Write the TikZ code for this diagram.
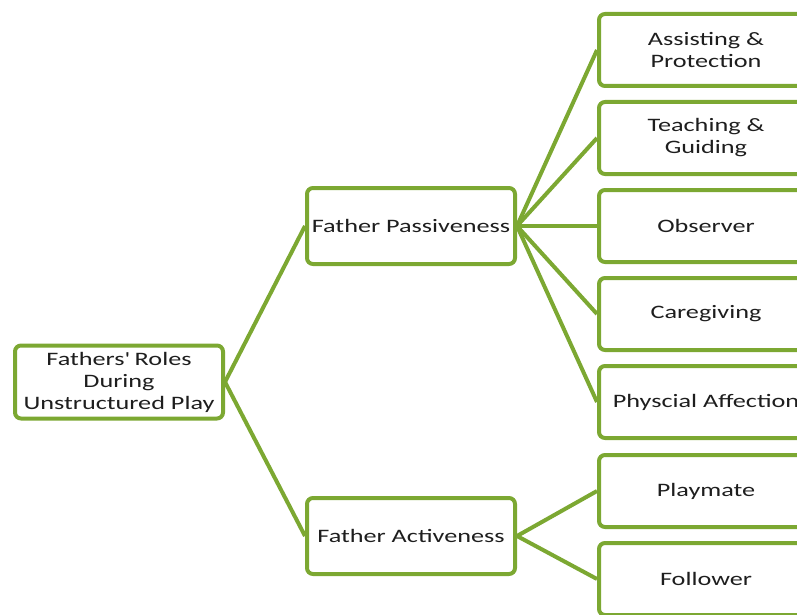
\documentclass[tikz,border=0pt]{standalone}
\usepackage{fontspec}
\setmainfont{Carlito}[FakeStretch=1.38]
\definecolor{leafgreen}{RGB}{124,168,50}
\definecolor{txtgray}{RGB}{30,30,30}

\begin{document}
\begin{tikzpicture}[x=1pt,y=-1pt,
    rolebox/.style={draw=leafgreen, line width=4pt, rounded corners=6pt, fill=white,
        text=txtgray, align=center, font=\fontsize{19}{22}\selectfont, inner sep=2pt,
        minimum width=208pt, minimum height=76pt},
    subbox/.style={rolebox, minimum width=214pt, minimum height=72pt},
    link/.style={draw=leafgreen, line width=4pt}]
    \useasboundingbox (0,0) rectangle (797,615);

    % Root
    \node[rolebox, minimum height=73pt] (root) at (119,382) {Fathers\textquotesingle{} Roles\\During\\Unstructured Play};

    % Two kinds of role
    \node[rolebox] (passive) at (411,226) {Father Passiveness};
    \node[rolebox] (active) at (411,536) {Father Activeness};

    % Sub roles
    \node[subbox] (assist) at (706,50) {Assisting \&\\Protection};
    \node[subbox] (teach) at (706,138) {Teaching \&\\Guiding};
    \node[subbox] (observe) at (706,226) {Observer};
    \node[subbox] (care) at (706,314) {Caregiving};
    \node[subbox] (affect) at (706,402) {Physcial Affection};
    \node[subbox] (playmate) at (706,491) {Playmate};
    \node[subbox] (follow) at (706,579) {Follower};

    % Links
    \draw[link] (root.east) -- (passive.west);
    \draw[link] (root.east) -- (active.west);
    \foreach \sub in {assist,teach,observe,care,affect}
        \draw[link] (passive.east) -- (\sub.west);
    \draw[link] (active.east) -- (playmate.west);
    \draw[link] (active.east) -- (follow.west);
\end{tikzpicture}
\end{document}
